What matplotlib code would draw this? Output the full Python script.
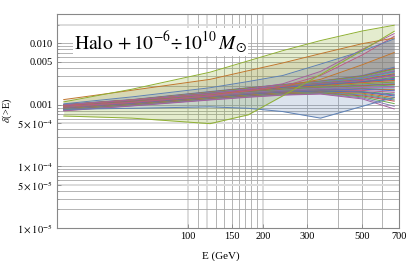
import numpy as np
import matplotlib
matplotlib.use("Agg")
import matplotlib.pyplot as plt
from matplotlib.ticker import FixedLocator, NullFormatter, NullLocator

plt.rcParams['mathtext.fontset'] = 'stix'
plt.rcParams['font.family'] = ['Liberation Serif', 'DejaVu Serif']

# Energy knots (GeV)
energy = [32, 60, 123, 175, 240, 340, 500, 670]

# Envelope / special curves (delta(>E))
top_green = [0.00112, 0.0018, 0.0034, 0.0052, 0.0076, 0.0111, 0.0159, 0.0197]
bottom_green = [0.00066, 0.00061, 0.000496, 0.00069, 0.0014, 0.0031, 0.0077, 0.0157]
brown = [0.00122, 0.00173, 0.0026, 0.0036, 0.0048, 0.0068, 0.0099, 0.0122]
upper_blue = [0.00104, 0.00135, 0.0019, 0.0024, 0.0030, 0.0046, 0.0075, 0.0118]
bottom_blue = [0.00085, 0.00088, 0.00093, 0.00088, 0.00078, 0.00061, 0.00095, 0.00133]
purple_a = [0.00100, 0.0012, 0.0015, 0.0018, 0.0022, 0.0035, 0.0080, 0.0144]
purple_b = [0.00095, 0.0011, 0.0014, 0.0017, 0.0020, 0.0030, 0.0065, 0.0130]
orange_c = [0.00098, 0.0012, 0.0015, 0.0017, 0.0020, 0.0026, 0.0045, 0.0071]

# Bundle of curves, values in units of 1e-3
bundle_milli = [
    [1.02, 1.22, 1.65, 1.90, 2.15, 2.45, 3.00, 4.10],
    [1.01, 1.21, 1.62, 1.88, 2.12, 2.42, 2.95, 3.90],
    [1.00, 1.20, 1.60, 1.85, 2.10, 2.40, 2.90, 3.80],
    [0.99, 1.19, 1.58, 1.80, 2.05, 2.35, 2.80, 3.60],
    [0.99, 1.19, 1.57, 1.79, 2.02, 2.32, 2.75, 3.50],
    [0.98, 1.18, 1.56, 1.78, 2.00, 2.30, 2.70, 3.40],
    [0.97, 1.17, 1.54, 1.75, 1.98, 2.25, 2.60, 3.20],
    [0.97, 1.16, 1.53, 1.74, 1.97, 2.22, 2.55, 3.10],
    [0.96, 1.16, 1.52, 1.72, 1.95, 2.20, 2.50, 3.00],
    [0.95, 1.15, 1.50, 1.70, 1.92, 2.15, 2.40, 2.80],
    [0.95, 1.14, 1.49, 1.69, 1.91, 2.12, 2.38, 2.70],
    [0.94, 1.14, 1.48, 1.68, 1.90, 2.10, 2.35, 2.60],
    [0.93, 1.13, 1.46, 1.66, 1.86, 2.05, 2.30, 2.50],
    [0.93, 1.12, 1.45, 1.64, 1.82, 2.00, 2.20, 2.35],
    [0.92, 1.11, 1.43, 1.62, 1.80, 1.95, 2.10, 2.20],
    [0.92, 1.11, 1.42, 1.61, 1.78, 1.92, 2.05, 2.15],
    [0.91, 1.10, 1.42, 1.60, 1.76, 1.90, 2.00, 2.10],
    [0.90, 1.09, 1.40, 1.58, 1.73, 1.86, 1.95, 2.00],
    [0.90, 1.08, 1.38, 1.56, 1.70, 1.82, 1.90, 1.90],
    [0.89, 1.07, 1.37, 1.54, 1.68, 1.78, 1.85, 1.80],
    [0.89, 1.07, 1.36, 1.53, 1.66, 1.76, 1.82, 1.75],
    [0.88, 1.06, 1.35, 1.52, 1.65, 1.75, 1.80, 1.70],
    [0.88, 1.05, 1.34, 1.50, 1.62, 1.72, 1.72, 1.60],
    [0.87, 1.04, 1.32, 1.48, 1.60, 1.70, 1.65, 1.50],
    [0.87, 1.04, 1.31, 1.47, 1.59, 1.68, 1.62, 1.45],
    [0.86, 1.03, 1.31, 1.46, 1.58, 1.66, 1.60, 1.40],
    [0.86, 1.02, 1.30, 1.44, 1.56, 1.62, 1.55, 1.32],
    [0.85, 1.01, 1.28, 1.42, 1.54, 1.60, 1.50, 1.25],
    [0.84, 1.00, 1.26, 1.40, 1.52, 1.58, 1.45, 1.20],
    [0.83, 0.99, 1.25, 1.38, 1.50, 1.56, 1.40, 1.15],
    [0.82, 0.98, 1.23, 1.36, 1.48, 1.55, 1.35, 1.05],
    [0.81, 0.97, 1.22, 1.35, 1.46, 1.52, 1.30, 0.95],
    [0.80, 0.96, 1.20, 1.33, 1.44, 1.50, 1.25, 0.86],
]

xtick_vals = [100, 150, 200, 300, 500, 700]
xtick_labels = ['100', '150', '200', '300', '500', '700']
ytick_vals = [1e-5, 5e-5, 1e-4, 5e-4, 1e-3, 5e-3, 1e-2]
ytick_labels = [r'$1\times10^{-5}$', r'$5\times10^{-5}$', r'$1\times10^{-4}$',
                r'$5\times10^{-4}$', '0.001', '0.005', '0.010']

# line colours
col_blue = '#5e81b5'
col_green = '#8fb032'
col_brown = '#c0762e'
col_purple = '#a5609d'
col_pink = '#bc5b80'
bundle_colors = ['#5e81b5', '#c0504d', '#6aa84f', '#8778b3', '#a5609d', '#4f9fb0',
                 '#c56e1a', '#5d6fc7', '#bc5b80', '#47a66d', '#9a4fa8', '#3f7fb5',
                 '#d0603a', '#7fa040']

fig = plt.figure(figsize=(4.07, 2.61), dpi=100)
ax = fig.add_axes([0.1393, 0.1264, 0.841, 0.82])
ax.set_xscale('log')
ax.set_yscale('log')
ax.set_xlim(30, 700)
ax.set_ylim(1e-5, 0.03)

# grid lines
vgrid = [100, 110, 120, 130, 140, 150, 160, 170, 180, 190, 200, 300, 400, 500, 600, 700]
vlight = [100, 120, 200]
for v in vgrid:
    if v in vlight:
        ax.axvline(v, color='#dcdcdc', lw=1.4, zorder=0)
    else:
        ax.axvline(v, color='#a8a8a8', lw=0.6, zorder=0)
hlight = [5e-5, 5e-4, 2e-2]
for dec in [1e-5, 1e-4, 1e-3, 1e-2]:
    for k in range(1, 10):
        v = k * dec
        if v > 0.03:
            continue
        if any(abs(v - h) / h < 1e-6 for h in hlight):
            ax.axhline(v, color='#dcdcdc', lw=1.4, zorder=0)
        else:
            ax.axhline(v, color='#a8a8a8', lw=0.6, zorder=0)

E = np.array(energy)
mid = np.array(bundle_milli[14]) * 1e-3
ax.fill_between(E, top_green, bottom_green, color=col_green, alpha=0.24, lw=0, zorder=1)
ax.fill_between(E, brown, mid, color='#a08a50', alpha=0.2, lw=0, zorder=1)
ax.fill_between(E, upper_blue, bottom_blue, color=col_blue, alpha=0.22, lw=0, zorder=1)
ax.fill_between(E, purple_a, mid, color='#7f7a80', alpha=0.2, lw=0, zorder=1)
ax.fill_between(E, purple_b, mid, color='#7f7a80', alpha=0.2, lw=0, zorder=1)
ax.fill_between(E, orange_c, mid, color='#8a8060', alpha=0.2, lw=0, zorder=1)

lw = 0.7
for i, row in enumerate(bundle_milli):
    ax.plot(E, np.array(row) * 1e-3, color=bundle_colors[i % len(bundle_colors)],
            lw=lw, zorder=2)

ax.plot(E, bottom_blue, color=col_blue, lw=lw, zorder=3)
ax.plot(E, orange_c, color=col_brown, lw=lw, zorder=3)
ax.plot(E, purple_b, color=col_pink, lw=lw, zorder=3)
ax.plot(E, purple_a, color=col_purple, lw=lw, zorder=3)
ax.plot(E, upper_blue, color=col_blue, lw=lw, zorder=3)
ax.plot(E, brown, color=col_brown, lw=lw, zorder=3)
ax.plot(E, bottom_green, color=col_green, lw=lw, zorder=3)
ax.plot(E, top_green, color=col_green, lw=lw, zorder=3)

# ticks
ax.xaxis.set_major_locator(FixedLocator(xtick_vals))
ax.set_xticklabels(xtick_labels)
ax.xaxis.set_minor_locator(NullLocator())
ax.xaxis.set_minor_formatter(NullFormatter())
ax.yaxis.set_major_locator(FixedLocator(ytick_vals))
ax.set_yticklabels(ytick_labels)
ax.yaxis.set_minor_formatter(NullFormatter())
ax.tick_params(axis='both', which='major', direction='in', length=3, width=0.6,
               color='#888888', labelsize=7.5, pad=3)
ax.tick_params(axis='both', which='minor', direction='in', length=1.5, width=0.5,
               color='#888888')
for s in ax.spines.values():
    s.set_color('#888888')
    s.set_linewidth(0.8)

ax.set_xlabel('E (GeV)', fontsize=8)
ax.xaxis.set_label_coords(0.48, -0.11)
ax.set_ylabel(r'$\delta$(>E)', fontsize=7.5)
ax.yaxis.set_label_coords(-0.125, 0.55)

ax.text(0.05, 0.838, r'$\mathrm{Halo}\,+10^{-6}\!\div\!10^{10}\,M_{\odot}$',
        transform=ax.transAxes, fontsize=14, color='black', zorder=5,
        bbox=dict(boxstyle='square,pad=0.05', fc='white', ec='none'))

fig.savefig('out.png', dpi=100)
